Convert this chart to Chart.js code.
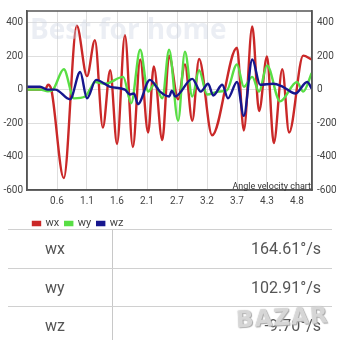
<!DOCTYPE html>
<html>
<head>
<meta charset="utf-8">
<script src="https://cdn.jsdelivr.net/npm/chart.js@4.4.1/dist/chart.umd.min.js"></script>
<style>
  html, body { margin: 0; padding: 0; background: #fff; }
  body { width: 340px; height: 340px; overflow: hidden; position: relative; font-family: Roboto, sans-serif; }
  #chart-box { position: absolute; left: 0; top: 0; width: 340px; height: 239px; }
  #values { position: absolute; left: 8px; top: 229px; width: 324px; }
  .row { position: relative; height: 38.5px; border-top: 1.5px solid #d0d0d0; box-sizing: border-box; color: #555; font-size: 16px; }
  .row .name { position: absolute; left: 0; top: 0; width: 105px; height: 100%; border-right: 1.5px solid #c8c8c8; box-sizing: border-box; padding-left: 37px; line-height: 37px; }
  .row .val { position: absolute; right: 11px; top: 0; line-height: 37px; }
  #mark { position: absolute; left: 236px; top: 304px; font: bold 23px "DejaVu Sans", sans-serif; color: rgba(255,255,255,0.6);
          text-shadow: 0 0 1px #999, 1px 1px 1px #aaa; letter-spacing: 1px; transform: rotate(-3deg); }
</style>
</head>
<body>
<div id="chart-box"><canvas id="chart-angle"></canvas></div>
<div id="values"></div>
<div id="mark">BAZAR</div>
<script>
// angle velocity samples, time in s, values in deg/s
var wxTime = [0.07, 0.30, 0.40, 0.44, 0.50, 0.72, 0.95, 1.13, 1.27, 1.41, 1.54, 1.66, 1.80, 1.94, 2.07, 2.21, 2.31, 2.46, 2.58, 2.74, 2.86, 2.99, 3.11, 3.34, 3.78, 3.90, 4.05, 4.17, 4.31, 4.43, 4.58, 4.70, 4.95, 5.10];
var wxValues = [0, 0, 5, 29, 0, -529, 382, 81, 296, -227, 116, -325, 325, -343, 180, -256, 139, -302, 203, -58, 151, -186, 183, -273, 250, -244, 378, -128, 198, -320, 122, -256, 203, 180];

var wyTime = [0.07, 0.30, 0.44, 0.53, 0.72, 0.90, 1.10, 1.18, 1.27, 1.45, 1.77, 1.91, 2.07, 2.21, 2.33, 2.46, 2.58, 2.74, 2.86, 2.99, 3.11, 3.25, 3.45, 3.60, 3.78, 3.90, 4.05, 4.17, 4.31, 4.54, 4.84, 4.95, 5.10];
var wyValues = [0, 0, -10, 0, 122, -52, -41, 0, 46, 35, 76, -81, 238, -12, 35, -52, 238, -186, 227, -41, 116, -29, -12, -5, 151, 17, 76, -12, 145, -70, 46, -12, 99];

var wzTime = [0.07, 0.30, 0.44, 0.57, 0.83, 1.01, 1.13, 1.29, 1.54, 1.80, 1.89, 1.96, 2.03, 2.24, 2.42, 2.58, 2.63, 2.69, 2.99, 3.14, 3.27, 3.36, 3.52, 3.62, 3.78, 3.90, 4.05, 4.19, 4.42, 4.59, 4.81, 5.02, 5.10];
var wzValues = [17, 17, 0, 0, -58, 105, -52, 58, 17, 0, -29, -23, -87, 58, -12, -41, -6, -41, 64, -12, 35, -35, 29, -52, 46, -157, 180, 29, 35, 17, -23, 46, 6];

var xTickValues = [0.6, 1.13, 1.66, 2.19, 2.72, 3.25, 3.78, 4.31, 4.84];
var xTickLabels = ['0.6', '1.1', '1.6', '2.1', '2.7', '3.2', '3.7', '4.3', '4.8'];
var yTickValues = [-600, -400, -200, 0, 200, 400];

var seriesNames = ['wx', 'wy', 'wz'];
var currentValues = ['164.61°/s', '102.91°/s', '-9.70°/s'];
var chartNote = 'Angle velocity chart';
var watermark = 'Best for home';

function points(times, values) {
    return times.map(function (t, i) { return {x: t, y: values[i]}; });
}

var boxPlugin = {
    id: 'boxPlugin',
    afterDraw: function (chart) {
        var ctx = chart.ctx;
        var a = chart.chartArea;
        ctx.save();
        ctx.strokeStyle = '#555';
        ctx.lineWidth = 1.5;
        ctx.strokeRect(a.left, a.top, a.right - a.left, a.bottom - a.top);
        ctx.fillStyle = '#333';
        ctx.font = '9px Roboto';
        ctx.textAlign = 'right';
        ctx.textBaseline = 'bottom';
        ctx.fillText(chartNote, a.right - 1, a.bottom + 1);
        ctx.fillStyle = 'rgba(205, 212, 228, 0.4)';
        ctx.font = 'bold 28px "Open Sans"';
        ctx.textAlign = 'left';
        ctx.textBaseline = 'middle';
        ctx.fillText(watermark, 30, 31);
        ctx.restore();
    }
};

var ctxAngle = document.getElementById('chart-angle').getContext('2d');

var chartAngle = new Chart(ctxAngle, {
    type: 'line',
    data: {
        datasets: [{
            label: seriesNames[0],
            data: points(wxTime, wxValues),
            borderColor: 'rgb(202, 40, 40)',
            backgroundColor: 'rgb(202, 40, 40)',
            order: 3
        }, {
            label: seriesNames[1],
            data: points(wyTime, wyValues),
            borderColor: 'rgb(88, 222, 68)',
            backgroundColor: 'rgb(88, 222, 68)',
            order: 2
        }, {
            label: seriesNames[2],
            data: points(wzTime, wzValues),
            borderColor: 'rgb(22, 22, 142)',
            backgroundColor: 'rgb(22, 22, 142)',
            order: 1
        }]
    },
    options: {
        responsive: true,
        maintainAspectRatio: false,
        animation: false,
        layout: {padding: {top: 7, left: 0, right: 0, bottom: 0}},
        elements: {
            point: {radius: 0},
            line: {borderWidth: 2.4, cubicInterpolationMode: 'monotone'}
        },
        scales: {
            x: {
                type: 'linear',
                min: 0.07,
                max: 5.105,
                afterBuildTicks: function (scale) {
                    scale.ticks = xTickValues.map(function (v) { return {value: v}; });
                },
                ticks: {
                    autoSkip: false,
                    maxRotation: 0,
                    padding: 5,
                    color: '#444',
                    font: {family: 'Roboto', size: 10},
                    callback: function (value, index) { return xTickLabels[index]; }
                },
                grid: {color: '#dedede', drawTicks: false},
                border: {color: '#555', width: 1.5}
            },
            y: {
                position: 'left',
                min: -600,
                max: 470,
                afterBuildTicks: function (scale) {
                    scale.ticks = yTickValues.map(function (v) { return {value: v}; });
                },
                afterFit: function (scale) { scale.width = 27; },
                ticks: {padding: 4, color: '#444', font: {family: 'Roboto', size: 10}},
                grid: {color: '#dedede', drawTicks: false},
                border: {color: '#555', width: 1.5}
            },
            y2: {
                position: 'right',
                min: -600,
                max: 470,
                afterBuildTicks: function (scale) {
                    scale.ticks = yTickValues.map(function (v) { return {value: v}; });
                },
                afterFit: function (scale) { scale.width = 28; },
                ticks: {padding: 5, color: '#444', font: {family: 'Roboto', size: 10}},
                grid: {display: false, drawTicks: false},
                border: {color: '#555', width: 1.5}
            }
        },
        plugins: {
            tooltip: {enabled: false},
            legend: {
                position: 'bottom',
                align: 'start',
                fullSize: false,
                labels: {
                    boxWidth: 7,
                    boxHeight: 3,
                    padding: 6,
                    color: '#444',
                    font: {family: 'Roboto', size: 11},
                    sort: function (a, b) { return a.datasetIndex - b.datasetIndex; }
                }
            }
        }
    },
    plugins: [boxPlugin]
});

var box = document.getElementById('values');
seriesNames.forEach(function (name, i) {
    var row = document.createElement('div');
    row.className = 'row';
    row.innerHTML = '<span class="name">' + name + '</span><span class="val">' + currentValues[i] + '</span>';
    box.appendChild(row);
});
</script>
</body>
</html>
